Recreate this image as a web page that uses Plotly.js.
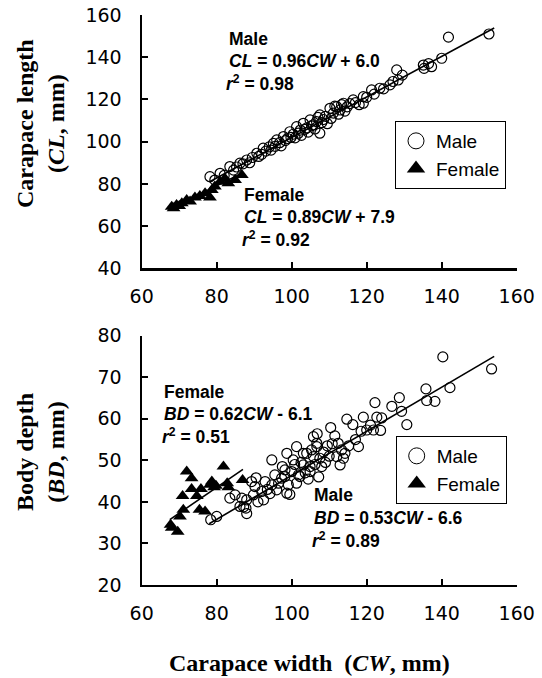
<!DOCTYPE html>
<html>
<head>
<meta charset="utf-8">
<script src="https://cdn.plot.ly/plotly-3.0.1.min.js"></script>
<style>html,body{margin:0;padding:0;background:#fff;}#chart{width:542px;height:678px;}</style>
</head>
<body>
<div id="chart"></div>
<script>
// ---------- Data ----------
// Top panel: carapace width (CW) vs carapace length (CL)
const maleCW_CL = [78.2,79.5,80.9,82.0,83.5,84.5,85.3,86.2,87.0,88.0,88.8,89.5,90.7,91.2,92.0,92.4,93.1,94.0,94.5,95.1,95.6,96.0,96.8,97.2,97.8,98.3,98.9,99.5,99.8,100.4,100.9,101.3,101.8,102.3,102.6,103.1,103.5,104.0,104.4,104.9,105.3,105.8,106.2,106.6,107.0,107.5,107.5,108.0,108.5,109.0,109.5,110.2,110.5,111.1,111.5,112.0,112.5,112.9,113.3,113.8,114.2,114.8,115.5,116.4,117.0,118.0,119.1,119.1,120.0,121.3,122.0,123.5,124.5,126.2,127.0,128.0,128.4,129.5,135.1,135.3,136.5,137.3,140.0,141.8,152.6];
const maleCL = [83.4,81.8,85.0,84.0,88.2,86.5,88.0,89.8,89.5,91.3,90.0,92.5,94.5,93.0,94.0,96.9,95.5,97.5,96.0,99.2,97.8,100.8,99.5,98.0,102.4,100.5,101.5,104.7,102.0,103.5,101.8,107.1,104.0,105.5,103.0,108.7,105.8,106.5,104.5,110.3,107.5,108.0,106.0,109.5,111.5,112.7,104.0,109.0,110.5,112.0,108.5,115.8,111.0,113.5,116.8,116.6,113.0,115.0,117.5,118.2,114.5,116.5,118.0,119.8,118.5,117.5,121.3,118.2,121.0,124.5,122.5,125.3,125.0,126.9,128.5,134.0,129.2,131.5,136.3,134.7,137.0,135.5,139.5,149.5,151.0];
const femaleCW_CL = [68.0,68.5,69.3,70.0,70.7,72.0,72.9,74.2,75.5,76.9,78.2,78.7,79.5,80.9,82.2,83.1,84.9,86.7];
const femaleCL = [69.2,68.5,70.0,69.5,70.8,72.4,71.6,73.6,74.3,75.5,73.6,77.1,78.7,81.0,82.6,80.3,81.8,84.2];

// Bottom panel: carapace width (CW) vs body depth (BD)
const maleCW_BD = [78.4,80.0,83.5,84.9,86.2,86.7,87.2,87.8,88.0,88.0,89.3,89.8,90.2,90.5,91.0,92.0,92.5,92.9,93.5,94.2,94.7,94.7,95.5,96.0,96.5,97.3,97.5,98.2,98.2,98.7,98.7,99.1,99.5,100.0,100.4,100.8,101.3,101.3,101.8,102.2,102.5,103.1,103.1,103.6,104.0,104.4,104.9,104.9,105.3,105.8,105.8,106.2,106.7,106.7,106.8,107.2,107.5,108.0,108.5,109.0,109.5,110.0,110.4,110.8,111.5,112.0,112.4,112.9,113.3,113.8,114.2,114.7,115.2,116.3,117.0,117.8,118.5,119.1,120.0,121.0,121.8,122.2,122.7,123.7,124.0,126.7,128.7,129.3,130.7,135.8,136.0,138.2,140.3,142.2,153.3];
const maleBD = [35.7,36.5,40.9,41.7,38.9,40.9,38.8,38.5,37.2,40.5,44.9,41.7,43.7,45.8,40.0,42.5,40.5,44.9,43.0,42.0,44.1,50.1,46.5,42.9,44.5,45.7,48.5,47.7,46.1,42.1,51.7,44.1,41.8,47.3,50.1,49.0,53.3,44.5,46.5,46.1,49.5,48.9,51.7,47.0,51.7,45.5,47.3,48.5,52.5,50.9,55.7,49.0,54.1,53.3,56.4,46.0,50.5,48.5,52.0,49.5,53.5,51.0,57.9,54.0,55.9,50.9,54.1,48.9,52.5,50.5,51.7,59.9,53.5,58.6,55.0,53.3,57.0,60.4,57.3,58.5,57.3,63.9,60.4,57.2,60.2,63.0,65.1,61.8,58.6,67.2,64.4,64.2,74.9,67.5,72.0];
const femaleCW_BD = [67.7,68.0,69.6,70.2,71.1,70.9,72.0,73.3,73.3,74.7,75.8,75.4,76.9,78.2,78.7,79.8,79.3,81.8,82.8,83.1,86.9];
const femaleBD = [34.5,33.8,32.8,36.5,38.1,41.4,47.3,45.7,43.1,41.4,43.1,38.1,37.7,44.1,44.9,43.9,43.5,48.5,44.5,43.5,45.3];

// Regression fits (slope, intercept, CW range) as printed on the chart
const fitMaleCL = [0.96, 6.0, 78, 154];
const fitFemaleCL = [0.89, 7.9, 67.5, 87];
const fitMaleBD = [0.53, -6.6, 78, 154];
const fitFemaleBD = [0.62, -6.1, 67.5, 87];

// Tick labels
const xTicks = [60,80,100,120,140,160];
const clTicks = [40,60,80,100,120,140,160];
const bdTicks = [20,30,40,50,60,70,80];

// ---------- Layout helpers ----------
const W = 542, H = 678;
const px = x => x / W;
const py = y => 1 - y / H;

function fitLine(f, xa, ya) {
  const xs = [f[2], f[3]];
  return {x: xs, y: xs.map(v => f[0]*v + f[1]), type:'scatter', mode:'lines',
    line:{color:'#000', width:1.6}, showlegend:false, hoverinfo:'skip', xaxis:xa, yaxis:ya};
}
const circle = {symbol:'circle-open', size:10, color:'#000', line:{width:1.2, color:'#000'}};
const tri = {symbol:'triangle-up', size:12, color:'#000'};

const traces = [
  {x: maleCW_CL, y: maleCL, type:'scatter', mode:'markers', marker:circle, showlegend:false, xaxis:'x', yaxis:'y'},
  {x: femaleCW_CL, y: femaleCL, type:'scatter', mode:'markers', marker:tri, showlegend:false, xaxis:'x', yaxis:'y'},
  fitLine(fitMaleCL,'x','y'), fitLine(fitFemaleCL,'x','y'),
  {x: maleCW_BD, y: maleBD, type:'scatter', mode:'markers', marker:circle, showlegend:false, xaxis:'x2', yaxis:'y2'},
  {x: femaleCW_BD, y: femaleBD, type:'scatter', mode:'markers', marker:tri, showlegend:false, xaxis:'x2', yaxis:'y2'},
  fitLine(fitMaleBD,'x2','y2'), fitLine(fitFemaleBD,'x2','y2'),
  // legend entries
  {x:[null], y:[null], name:'Male', type:'scatter', mode:'markers', marker:{symbol:'circle-open', size:16, color:'#000', line:{width:1,color:'#000'}}, xaxis:'x', yaxis:'y', legend:'legend'},
  {x:[null], y:[null], name:'Female', type:'scatter', mode:'markers', marker:{symbol:'triangle-up', size:16, color:'#000'}, xaxis:'x', yaxis:'y', legend:'legend'},
  {x:[null], y:[null], name:'Male', type:'scatter', mode:'markers', marker:{symbol:'circle-open', size:16, color:'#000', line:{width:1,color:'#000'}}, xaxis:'x2', yaxis:'y2', legend:'legend2'},
  {x:[null], y:[null], name:'Female', type:'scatter', mode:'markers', marker:{symbol:'triangle-up', size:16, color:'#000'}, xaxis:'x2', yaxis:'y2', legend:'legend2'}
];

const tickFont = {family:'DejaVu Sans', size:19, color:'#000'};
const axBase = {showgrid:false, zeroline:false, showline:true, linecolor:'#000', linewidth:2.2,
  ticks:'inside', ticklen:6, tickwidth:2, tickcolor:'#000', tickfont:tickFont, fixedrange:true};

const xDom = [px(141.7), px(516.7)];
const annFont = {family:'Liberation Sans', size:17.5, color:'#000'};
function txt(text, x, y) {
  return {text:'<b>'+text+'</b>', xref:'paper', yref:'paper', x:px(x), y:py(y), xanchor:'left', yanchor:'middle', showarrow:false, font:annFont};
}
const titleFont = {family:'Liberation Serif', size:24, color:'#000'};
const legendBase = {xanchor:'left', yanchor:'top', bordercolor:'#000', borderwidth:1, bgcolor:'#fff',
  font:{family:'Liberation Sans', size:19, color:'#000'}, itemwidth:30, tracegroupgap:0};

const layout = {
  width:W, height:H, autosize:false, margin:{l:0,r:0,t:0,b:0},
  paper_bgcolor:'#fff', plot_bgcolor:'rgba(0,0,0,0)',
  xaxis: Object.assign({}, axBase, {domain:xDom, range:[60,160], tickvals:xTicks, ticktext:xTicks.map(String), anchor:'y', ticklabelstandoff:10}),
  yaxis: Object.assign({}, axBase, {domain:[py(268.3), py(15)], range:[40,160], tickvals:clTicks, ticktext:clTicks.map(String), anchor:'x', ticklabelstandoff:14}),
  xaxis2: Object.assign({}, axBase, {domain:xDom, range:[60,160], tickvals:xTicks, ticktext:xTicks.map(String), anchor:'y2', ticklabelstandoff:10}),
  yaxis2: Object.assign({}, axBase, {domain:[py(585), py(335.7)], range:[20,80], tickvals:bdTicks, ticktext:bdTicks.map(String), anchor:'x2', ticklabelstandoff:14}),
  legend: Object.assign({}, legendBase, {x:px(395), y:py(121)}),
  legend2: Object.assign({}, legendBase, {x:px(395.7), y:py(436)}),
  annotations: [
    txt('Male', 226.7, 39),
    txt('<i>CL</i> = 0.96<i>CW</i> + 6.0', 226.7, 61),
    txt('<i>r</i><sup>2</sup> = 0.98', 224, 83),
    txt('Female', 241.7, 195),
    txt('<i>CL</i> = 0.89<i>CW</i> + 7.9', 241.7, 217),
    txt('<i>r</i><sup>2</sup> = 0.92', 240, 239),
    txt('Female', 162.3, 392),
    txt('<i>BD</i> = 0.62<i>CW</i> - 6.1', 162.3, 414),
    txt('<i>r</i><sup>2</sup> = 0.51', 160, 436),
    txt('Male', 311.7, 495),
    txt('<i>BD</i> = 0.53<i>CW</i> - 6.6', 311.7, 518),
    txt('<i>r</i><sup>2</sup> = 0.89', 309.7, 540),
    {text:'<b>Carapace length<br>(<i>CL</i>, mm)</b>', xref:'paper', yref:'paper', x:px(40), y:py(124), xanchor:'center', yanchor:'middle', textangle:-90, showarrow:false, font:titleFont},
    {text:'<b>Body depth<br>(<i>BD</i>, mm)</b>', xref:'paper', yref:'paper', x:px(40), y:py(452), xanchor:'center', yanchor:'middle', textangle:-90, showarrow:false, font:titleFont},
    {text:'<b>Carapace width  (<i>CW</i>, mm)</b>', xref:'paper', yref:'paper', x:px(309), y:py(663), xanchor:'center', yanchor:'middle', showarrow:false, font:titleFont}
  ]
};

Plotly.newPlot('chart', traces, layout, {staticPlot:true, displayModeBar:false});
</script>
</body>
</html>
